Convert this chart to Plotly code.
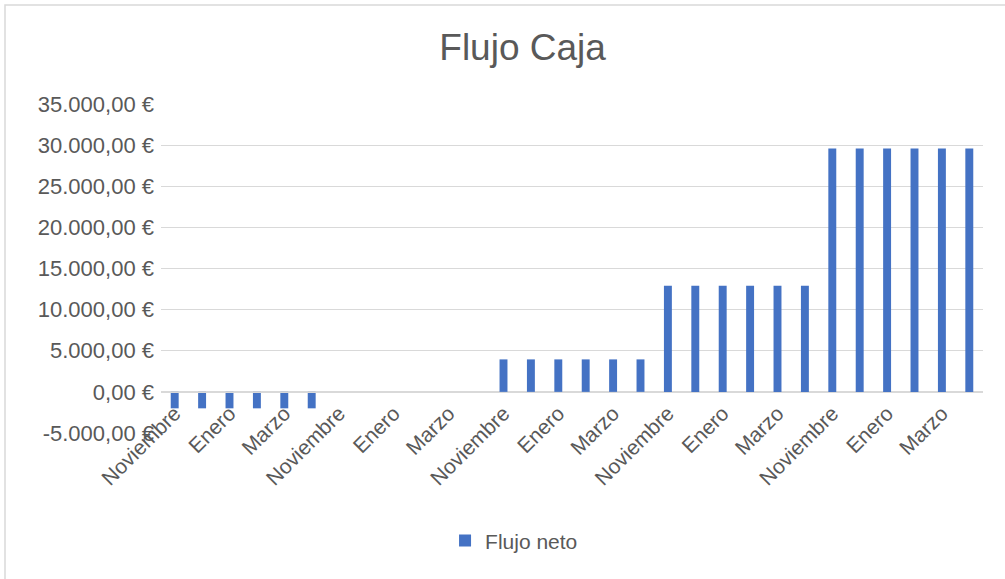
import plotly.graph_objects as go

# Months of the cash-flow projection (five periods of six months each)
meses = [
    "Noviembre", "Diciembre", "Enero", "Febrero", "Marzo", "Abril",
    "Noviembre", "Diciembre", "Enero", "Febrero", "Marzo", "Abril",
    "Noviembre", "Diciembre", "Enero", "Febrero", "Marzo", "Abril",
    "Noviembre", "Diciembre", "Enero", "Febrero", "Marzo", "Abril",
    "Noviembre", "Diciembre", "Enero", "Febrero", "Marzo", "Abril",
]

# Net cash flow per month (EUR)
flujo_neto = [
    -2000, -2000, -2000, -2000, -2000, -2000,
    0, 0, 0, 0, 0, 0,
    3950, 3950, 3950, 3950, 3950, 3950,
    12900, 12900, 12900, 12900, 12900, 12900,
    29600, 29600, 29600, 29600, 29600, 29600,
]

y_ticks = [-5000, 0, 5000, 10000, 15000, 20000, 25000, 30000, 35000]


def euro(v):
    s = f"{v:,.2f}".replace(",", "X").replace(".", ",").replace("X", ".")
    return f"{s} €"


y_ticktext = [euro(v) for v in y_ticks]

x_pos = list(range(len(meses)))
x_tickvals = x_pos[::2]
x_ticktext = meses[::2]

TEXT = "#595959"
GRID = "#d9d9d9"
BLUE = "#4472C4"
FONT = "Liberation Sans, Arial, Helvetica, sans-serif"

fig = go.Figure(
    go.Bar(
        x=x_pos,
        y=flujo_neto,
        name="Flujo neto",
        marker=dict(color=BLUE, line=dict(width=0)),
        width=0.29,
        showlegend=True,
    )
)

fig.update_layout(
    width=1005,
    height=579,
    margin=dict(l=161, r=22, t=104, b=146),
    paper_bgcolor="white",
    plot_bgcolor="white",
    font=dict(family=FONT, color=TEXT, size=21),
    title=dict(
        text="Flujo Caja",
        font=dict(size=37, color=TEXT, family=FONT),
        x=0.52,
        xref="container",
        xanchor="center",
        y=1 - 47 / 579,
        yref="container",
        yanchor="middle",
    ),
    showlegend=True,
    legend=dict(
        orientation="h",
        x=0.4295,
        xanchor="center",
        y=-0.328,
        yanchor="middle",
        font=dict(size=21, color=TEXT),
        itemsizing="constant",
    ),
    xaxis=dict(
        range=[-0.5, len(meses) - 0.5],
        tickmode="array",
        tickvals=x_tickvals,
        ticktext=x_ticktext,
        tickangle=-45,
        showgrid=False,
        zeroline=False,
        showline=True,
        linecolor=GRID,
        linewidth=1,
        anchor="free",
        position=0.125,
        ticks="",
        tickfont=dict(size=21, color=TEXT),
    ),
    yaxis=dict(
        range=[-5000, 35000],
        tickmode="array",
        tickvals=y_ticks,
        ticktext=y_ticktext,
        showgrid=True,
        gridcolor=GRID,
        gridwidth=1,
        zeroline=False,
        showline=False,
        ticks="",
        ticklabelstandoff=6,
        tickfont=dict(size=22, color=TEXT),
    ),
    shapes=[
        dict(
            type="rect",
            xref="paper",
            yref="paper",
            x0=(5 - 161) / 822,
            x1=1.2,
            y0=-0.8,
            y1=(433 - 5) / 329,
            line=dict(color=GRID, width=1.5),
            fillcolor="rgba(0,0,0,0)",
            layer="below",
        )
    ],
)

fig.write_html("out.html")
